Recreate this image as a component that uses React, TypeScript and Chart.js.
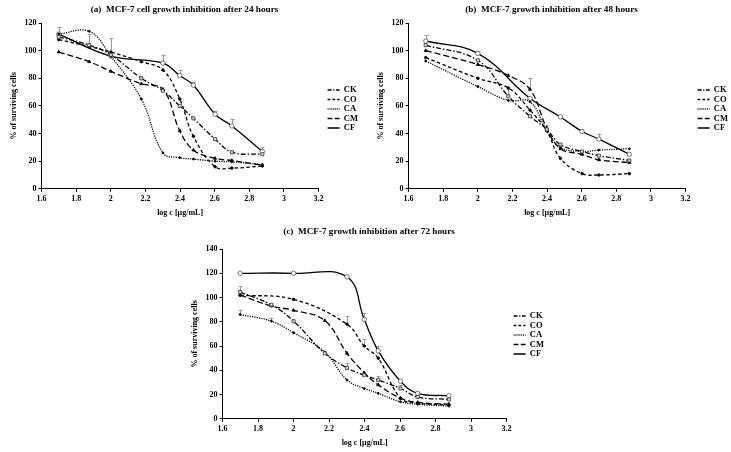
import React, { useEffect, useRef } from 'react';
import { Chart, registerables } from 'chart.js';
Chart.register(...registerables);

// log10 of concentrations 50,75,100,150,200,250,300,400,500,750 µg/mL
const logC = [1.699, 1.875, 2.0, 2.176, 2.301, 2.398, 2.477, 2.602, 2.699, 2.875];
const seriesNames = ['CK', 'CO', 'CA', 'CM', 'CF'];
const xTicksMin = 1.6;
const xTicksMax = 3.2;

// (a) 24 hours
const ck24 = [110, 104, 97, 80, 71, 60, 51, 36, 26.5, 25];
const co24 = [108, 103, 99, 92, 86, 65, 38, 16, 15, 16.5];
const ca24 = [112, 114, 96, 65, 26, 22.5, 21.5, 20, 19.5, 17.5];
const cm24 = [99, 92, 85, 76, 72, 42, 28, 22, 20.5, 17];
const cf24 = [112, null, 96, null, 91, 82, 75, 54, 45.5, 27];
const ck24Err = [0, 8, 0, 0, 0, 0, 0, 0, 0, 0];
const co24Err = [0, 0, 0, 0, 0, 0, 0, 0, 0, 0];
const ca24Err = [0, 0, 13, 0, 0, 0, 0, 0, 0, 0];
const cm24Err = [0, 0, 0, 0, 0, 0, 0, 0, 0, 0];
const cf24Err = [5, null, 0, null, 6, 4, 2, 2, 5, 3];

// (b) 48 hours
const ck48 = [104, null, 93, 67, 52.5, 43, 32, 27, 24, 20.5];
const co48 = [95, null, 80, 73, 57, 42, 22, 11, 10, 11];
const ca48 = [92.5, null, 74, 64, 63, 42, 30, 27, 28, 29];
const cm48 = [100, null, 90, 82, 72, 44, 29, 25, 21, 19];
const cf48 = [107, null, 98, null, 65.5, null, 52, 41.5, 36, 25];
const ck48Err = [0, null, 0, 5, 0, 3, 0, 0, 0, 0];
const co48Err = [0, null, 0, 0, 0, 0, 0, 0, 0, 0];
const ca48Err = [0, null, 0, 0, 0, 0, 0, 0, 0, 0];
const cm48Err = [0, null, 0, 0, 8, 0, 0, 0, 0, 0];
const cf48Err = [4, null, 2, null, 0, null, 0, 0, 4, 0];

// (c) 72 hours
const ck72 = [104.5, 94, 80.5, 54, 42, 36, 32, 25, 18, 16];
const co72 = [102, null, 98.5, null, 78, 60, 50, 17, 13, 11.5];
const ca72 = [86, 80.5, 71, 55, 32, 25, 21, 14, 12, 10.5];
const cm72 = [102, 93, 89.5, 81, 54, 38, 28, 17, 13.5, 12];
const cf72 = [120, null, 120, null, 117, 82, 56, 31, 21, 19];
const ck72Err = [5, 0, 0, 0, 4, 0, 3, 3, 0, 0];
const co72Err = [0, null, 0, null, 7, 6, 0, 0, 0, 0];
const ca72Err = [4, 3, 0, 0, 0, 0, 0, 0, 0, 0];
const cm72Err = [0, 0, 0, 0, 0, 0, 0, 0, 0, 0];
const cf72Err = [0, null, 0, null, 0, 5, 4, 0, 0, 0];

const FONT = 'Liberation Serif, Times New Roman, serif';

const styles: any[] = [
  { borderDash: [5, 2, 1.5, 2], pointStyle: 'rect', pointRadius: 2.2, pointBackgroundColor: '#d8d8d8', pointBorderColor: '#333' },
  { borderDash: [3.5, 2.5], pointStyle: 'circle', pointRadius: 1.3, pointBackgroundColor: '#000', pointBorderColor: '#000' },
  { borderDash: [1.2, 1.2], pointStyle: 'circle', pointRadius: 1, pointBackgroundColor: '#000', pointBorderColor: '#000' },
  { borderDash: [6, 3], pointStyle: 'triangle', pointRadius: 1.8, pointBackgroundColor: '#000', pointBorderColor: '#000' },
  { borderDash: [], pointStyle: 'circle', pointRadius: 2.2, pointBackgroundColor: '#fff', pointBorderColor: '#555' },
];

const errorBarPlugin = {
  id: 'errorBars',
  beforeDatasetsDraw(chart: any) {
    const { ctx, scales } = chart;
    const xs = scales.x, ys = scales.y;
    ctx.save();
    ctx.strokeStyle = '#9a9a9a';
    ctx.lineWidth = 1;
    chart.data.datasets.forEach((ds: any) => {
      ds.data.forEach((pt: any) => {
        const e = pt.err;
        if (!e) return;
        const px = Math.round(xs.getPixelForValue(pt.x)) + 0.5;
        const py = ys.getPixelForValue(pt.y);
        const pe = ys.getPixelForValue(pt.y + e);
        ctx.beginPath();
        ctx.moveTo(px, py);
        ctx.lineTo(px, pe);
        ctx.moveTo(px - 2, Math.round(pe) + 0.5);
        ctx.lineTo(px + 2, Math.round(pe) + 0.5);
        ctx.stroke();
      });
    });
    ctx.restore();
  },
};

type PanelProps = {
  title: string;
  series: (number | null)[][];
  errors: (number | null)[][];
  yMax: number;
  left: number;
  top: number;
  width: number;
  height: number;
  padding: any;
  legendDx: number;
  titleBottom: number;
};

function Panel(p: PanelProps) {
  const ref = useRef<HTMLCanvasElement>(null);
  useEffect(() => {
    if (!ref.current) return;
    const datasets = seriesNames.map((name, si) => {
      const data: any[] = [];
      logC.forEach((x, i) => {
        const v = p.series[si][i];
        if (v !== null && v !== undefined) data.push({ x, y: v, err: p.errors[si][i] || 0 });
      });
      return {
        label: name,
        data,
        borderColor: '#000',
        backgroundColor: '#000',
        borderWidth: 1.3,
        tension: 0.4,
        pointBorderWidth: 0.8,
        ...styles[si],
      };
    });
    const legendShift = {
      id: 'legendShift',
      afterLayout(chart: any) {
        const l = chart.legend;
        if (l) {
          l.left += p.legendDx;
          l.right += p.legendDx;
        }
      },
    };
    const tickFont = { family: FONT, size: 8, weight: 'bold' as const };
    const baseGen = (Chart as any).defaults.plugins.legend.labels.generateLabels;
    const chart = new Chart(ref.current, {
      type: 'line',
      data: { datasets } as any,
      plugins: [errorBarPlugin, legendShift],
      options: {
        responsive: false,
        animation: false,
        layout: { padding: p.padding },
        plugins: {
          title: {
            display: true,
            text: p.title,
            color: '#000',
            font: { family: FONT, size: 9.2, weight: 'bold' },
            padding: { top: 4, bottom: p.titleBottom },
          },
          legend: {
            position: 'right',
            labels: {
              usePointStyle: true,
              pointStyle: 'line',
              pointStyleWidth: 12,
              boxHeight: 6,
              color: '#000',
              font: { family: FONT, size: 8.5, weight: 'bold' },
              padding: 1,
              generateLabels: (c: any) =>
                baseGen(c).map((l: any) => ({
                  ...l,
                  lineWidth: 1.4,
                  strokeStyle: '#000',
                  pointStyle: 'line',
                  lineDash: (c.data.datasets[l.datasetIndex].borderDash || []).map((d: number) => d * 0.8),
                })),
            },
          },
          tooltip: { enabled: false },
        },
        scales: {
          x: {
            type: 'linear',
            min: xTicksMin,
            max: xTicksMax,
            ticks: {
              stepSize: 0.2,
              color: '#000',
              font: tickFont,
              padding: 2,
              maxRotation: 0,
              callback: (v: any) => String(Math.round(Number(v) * 10) / 10),
            },
            grid: { display: true, drawOnChartArea: false, drawTicks: true, tickLength: 3, color: '#000' },
            border: { display: true, color: '#000', width: 1 },
            title: { display: true, text: 'log c [µg/mL]', color: '#000', font: tickFont, padding: { top: 3, bottom: 0 } },
          },
          y: {
            type: 'linear',
            min: 0,
            max: p.yMax,
            ticks: { stepSize: 20, color: '#000', font: tickFont, padding: 2 },
            grid: { display: true, drawOnChartArea: false, drawTicks: true, tickLength: 3, color: '#000' },
            border: { display: true, color: '#000', width: 1 },
            title: { display: true, text: '% of surviving cells', color: '#000', font: tickFont, padding: { top: 0, bottom: 4 } },
          },
        },
      } as any,
    });
    return () => chart.destroy();
  }, []);
  return (
    <canvas
      ref={ref}
      width={p.width}
      height={p.height}
      style={{ position: 'absolute', left: p.left, top: p.top, width: p.width, height: p.height }}
    />
  );
}

export default function App() {
  return (
    <div style={{ position: 'absolute', left: 0, top: 0, width: 731, height: 452, background: '#fff', overflow: 'hidden' }}>
      <Panel
        title="(a)  MCF-7 cell growth inhibition after 24 hours"
        series={[ck24, co24, ca24, cm24, cf24]}
        errors={[ck24Err, co24Err, ca24Err, cm24Err, cf24Err]}
        yMax={120}
        left={0}
        top={0}
        width={362}
        height={220}
        padding={{ left: 9, right: 2, top: 0, bottom: 2 }}
        legendDx={8}
        titleBottom={8}
      />
      <Panel
        title="(b)  MCF-7 growth inhibition after 48 hours"
        series={[ck48, co48, ca48, cm48, cf48]}
        errors={[ck48Err, co48Err, ca48Err, cm48Err, cf48Err]}
        yMax={120}
        left={365}
        top={0}
        width={366}
        height={220}
        padding={{ left: 11, right: 4, top: 0, bottom: 2 }}
        legendDx={11}
        titleBottom={8}
      />
      <Panel
        title="(c)  MCF-7 growth inhibition after 72 hours"
        series={[ck72, co72, ca72, cm72, cf72]}
        errors={[ck72Err, co72Err, ca72Err, cm72Err, cf72Err]}
        yMax={140}
        left={179}
        top={222}
        width={376}
        height={230}
        padding={{ left: 11, right: 7, top: 0, bottom: 4 }}
        legendDx={6}
        titleBottom={12}
      />
    </div>
  );
}
